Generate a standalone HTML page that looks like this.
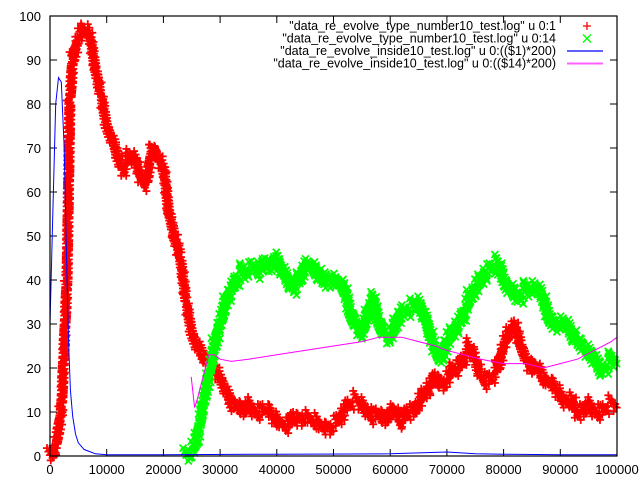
<!DOCTYPE html>
<html><head><meta charset="utf-8"><style>
body{margin:0;background:#fff}
svg{display:block;font-family:"Liberation Sans",sans-serif;font-size:13px}
</style></head><body>
<svg id="c" width="640" height="480"></svg>
<script>
const redX=[0,1,2,3,3.5,4,5,6,7,8,9,10,11,12,13,14,15,16,17,18,19,20,21,22,23,24,25,26,27,28,29,30,31,32,33,34,35,36,37,38,39,40,41,42,43,44,45,46,47,48,49,50,51,52,53,54,55,56,57,58,59,60,61,62,63,64,65,66,67,68,69,70,71,72,73,74,75,76,77,78,79,80,81,82,83,84,85,86,87,88,89,90,91,92,93,94,95,96,97,98,99,100];
const redY=[0,2,10,40,80,90,95,97,96,88,82,75,72,68,65,68,68,63,62,70,68,66,55,50,45,35,28,25,23,22,20,18,15,12,12,10,12,10,10,11,10,8,7,7,9,8,9,8,8,7,6,7,8,11,12,13,12,10,9,10,8,10,10,8,10,10,12,14,16,18,16,17,20,20,22,25,22,18,17,18,20,25,28,30,25,22,20,20,18,17,16,14,12,13,10,10,12,10,10,11,12,12];
const greenX=[24,25,26,27,28,29,30,31,32,33,34,35,36,37,38,39,40,41,42,43,44,45,46,47,48,49,50,51,52,53,54,55,56,57,58,59,60,61,62,63,64,65,66,67,68,69,70,71,72,73,74,75,76,77,78,79,80,81,82,83,84,85,86,87,88,89,90,91,92,93,94,95,96,97,98,99,100];
const greenY=[0,1,4,12,18,25,30,35,38,40,42,42,43,42,44,43,45,42,40,38,40,43,43,42,40,40,40,39,38,32,30,28,32,36,30,28,27,30,33,33,34,35,32,28,24,22,26,28,30,32,36,38,40,42,43,44,40,38,37,36,38,38,38,36,31,30,30,30,28,26,25,24,22,20,20,22,22];
const blueX=[0,0.5,1,1.5,2,2.5,3,3.3,3.6,4,4.5,5,6,7,8,10,20,40,60,70,75,80,90,100];
const blueY=[30,55,80,86,85,70,40,25,15,9,5,3,1.5,1,0.5,0.3,0.3,0.4,0.5,0.9,0.5,0.4,0.3,0.3];
const magX=[24.9,25.5,26,27,28,29,30,32,35,40,45,50,55,58,62,65,68,70,73,76,80,84,87,90,93,96,99,100];
const magY=[18,11,13,18,23,23,22,21.5,22,23,24,25,26,27,27,26,25,24,23,22,21,21,20,21,22,24,26,27];
const xTicks=[0,10000,20000,30000,40000,50000,60000,70000,80000,90000,100000];
const yTicks=[0,10,20,30,40,50,60,70,80,90,100];
const L=50,R=617,T=16,B=456;
const sx=v=>L+(v/100000)*(R-L), sy=v=>B-(v/100)*(B-T);
const svg=document.getElementById('c');const NS='http://www.w3.org/2000/svg';
function mk(t,a,p){const e=document.createElementNS(NS,t);for(const k in a)e.setAttribute(k,a[k]);(p||svg).appendChild(e);return e;}
const ax=mk('g',{stroke:'#000','stroke-width':1});


yTicks.forEach(v=>{const y=sy(v);mk('line',{x1:L,y1:y,x2:L+7,y2:y},ax);mk('line',{x1:R,y1:y,x2:R-7,y2:y},ax);
const t=mk('text',{x:L-9,y:y+5,'text-anchor':'end',stroke:'none',fill:'#000'});t.textContent=v;

});
xTicks.forEach(v=>{const x=sx(v);mk('line',{x1:x,y1:B,x2:x,y2:B-7},ax);mk('line',{x1:x,y1:T,x2:x,y2:T+7},ax);
const t=mk('text',{x:x,y:B+18,'text-anchor':'middle',stroke:'none',fill:'#000'});t.textContent=v;

});
function path(xs,ys,col,w,name){let d='';xs.forEach((x,i)=>{d+=(i?'L':'M')+sx(x*1000).toFixed(1)+','+sy(ys[i]).toFixed(1);});
const p=mk('path',{d:d,fill:'none',stroke:col,'stroke-width':w});

}
function marks(xs,ys,col,type,name){const g=mk('g',{stroke:col,'stroke-width':1.8});


for(let i=0;i<xs.length-1;i++){const x0=sx(xs[i]*1000),x1=sx(xs[i+1]*1000),y0=sy(ys[i]),y1=sy(ys[i+1]);
const n=Math.max(3,Math.ceil(Math.hypot(x1-x0,y1-y0)/2.5));
for(let k=0;k<n;k++){const f=k/n;const x=x0+(x1-x0)*f,y=y0+(y1-y0)*f;
const off=((k*7+i*3)%5-2)*2.2;
for(let j=-1;j<=1;j++){const yy=y+j*3.5+off,xx=x+((k+j)%3-1)*1.5;if(type==='+'){mk('line',{x1:xx-4,y1:yy,x2:xx+4,y2:yy},g);mk('line',{x1:xx,y1:yy-4,x2:xx,y2:yy+4},g);}
else{mk('line',{x1:xx-3.5,y1:yy-3.5,x2:xx+3.5,y2:yy+3.5},g);mk('line',{x1:xx-3.5,y1:yy+3.5,x2:xx+3.5,y2:yy-3.5},g);}}}}}
marks(redX,redY,'#ff0000','+','red-series');
marks(greenX,greenY,'#00ff00','x','green-series');
path(magX,magY,'#ff00ff',1,'magenta-line');
path(blueX,blueY,'#0000ff',1,'blue-line');
mk('rect',{x:L,y:T,width:R-L,height:B-T,fill:'none',stroke:'#000','stroke-width':1.2});
const labels=['"data_re_evolve_type_number10_test.log" u 0:1','"data_re_evolve_type_number10_test.log" u 0:14','"data_re_evolve_inside10_test.log" u 0:(($1)*200)','"data_re_evolve_inside10_test.log" u 0:(($14)*200)'];
labels.forEach((s,i)=>{const y=26+i*12.5;const t=mk('text',{x:556,y:y+4,'text-anchor':'end','font-size':'12.5px',fill:'#000'});t.textContent=s;


if(i==0){mk('line',{x1:587,y1:y-4,x2:587,y2:y+4,stroke:'#f00','stroke-width':1.3});mk('line',{x1:583,y1:y,x2:591,y2:y,stroke:'#f00','stroke-width':1.3});}
else if(i==1){mk('line',{x1:583,y1:y-4,x2:591,y2:y+4,stroke:'#0f0','stroke-width':1.3});mk('line',{x1:583,y1:y+4,x2:591,y2:y-4,stroke:'#0f0','stroke-width':1.3});}
else mk('line',{x1:567,y1:y,x2:603,y2:y,stroke:i==2?'#6060ff':'#ff60ff','stroke-width':2});});
</script>
</body></html>
